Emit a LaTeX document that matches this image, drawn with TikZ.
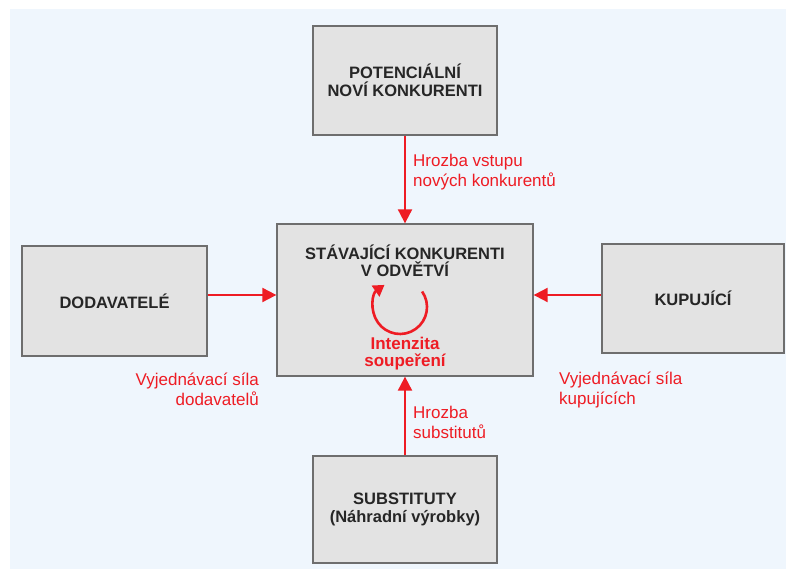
\documentclass[tikz,border=0pt]{standalone}
\usepackage{fontspec}
\setmainfont{Liberation Sans}
\usetikzlibrary{arrows.meta}
\definecolor{bgblue}{HTML}{EFF6FD}
\definecolor{boxgray}{HTML}{E3E3E3}
\definecolor{edgegray}{HTML}{6E6E6E}
\definecolor{forcered}{HTML}{EE1C24}
\begin{document}
\begin{tikzpicture}[x=1pt,y=1pt,
				force/.style={rectangle,draw=edgegray,fill=boxgray,line width=1.3pt,
									align=center,font=\bfseries\fontsize{16.5}{18.5}\selectfont,
									text=black!85},
				push/.style={draw=forcered,line width=2pt,
									-{Triangle[length=14pt,width=14pt]}},
				lbl/.style={text=forcered,font=\fontsize{17}{20}\selectfont,inner sep=0pt}]
\path[ use as bounding box ] (0,0) rectangle (786,569);
\fill[bgblue] (10,0) rectangle (786,560);

	\node[force,minimum width=184pt,minimum height=109pt] (novi) at (405,488.5)
		{POTENCIÁLNÍ\\NOVÍ KONKURENTI};
	\node[force,minimum width=256pt,minimum height=152pt] (stav) at (405,269) {};
	\node[force,minimum width=185pt,minimum height=110pt] (dodav) at (114.5,268) {DODAVATELÉ};
	\node[force,minimum width=182pt,minimum height=109pt] (kupuj) at (693,270.5) {KUPUJÍCÍ};
	\node[force,minimum width=184pt,minimum height=107pt] (subst) at (405,59.5)
		{SUBSTITUTY\\(Náhradní výrobky)};

	\node[align=center,inner sep=0pt,font=\bfseries\fontsize{16.5}{17}\selectfont,text=black!85]
		(stavtxt) at (405,308) {STÁVAJÍCÍ KONKURENTI\\V ODVĚTVÍ};
	\coordinate (kruh) at (400,262);
	\draw[forcered,line width=2.6pt,-{Triangle[length=11pt,width=13pt]}]
		([shift={(35:27)}]kruh) arc[start angle=35,end angle=-235,radius=27];
	\node[lbl,align=center,font=\bfseries\fontsize{17}{17}\selectfont] (intenz) at (405,215)
		{Intenzita\\soupeření};

  \draw[push] (novi) -- (stav);
  \draw[push] (subst) -- (stav);
  \draw[push] ([yshift=6pt]dodav.east) -- ([yshift=5pt]stav.west);
  \draw[push] ([yshift=3.5pt]kupuj.west) -- ([yshift=5pt]stav.east);

	\node[lbl,align=left,anchor=west] (vstup) at (413,397)
		{Hrozba vstupu\\nových konkurentů};
	\node[lbl,align=right,anchor=east] (silad) at (259,180)
		{Vyjednávací síla\\dodavatelů};
	\node[lbl,align=left,anchor=west] (silak) at (559,179)
		{Vyjednávací síla\\kupujících};
	\node[lbl,align=left,anchor=west] (hrozs) at (413,147)
		{Hrozba\\substitutů};
\end{tikzpicture}
\end{document}
